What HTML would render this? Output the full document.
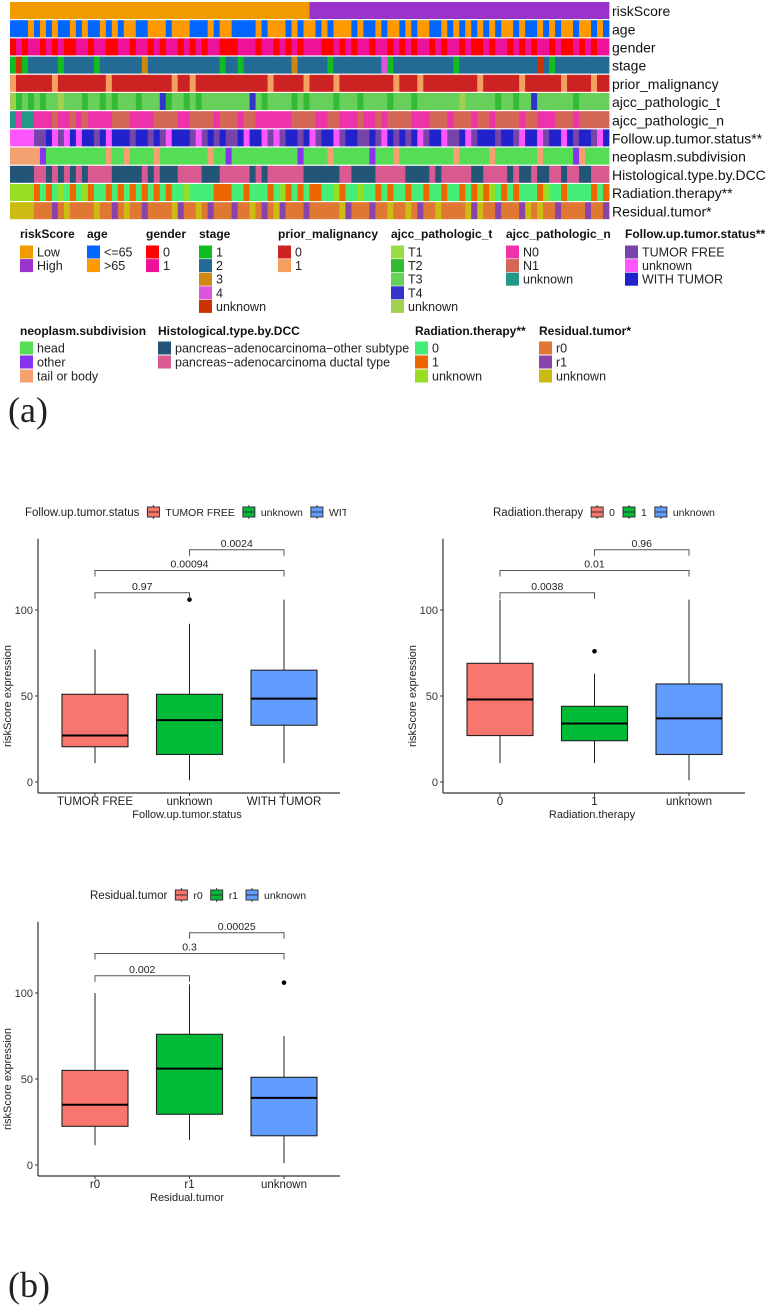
<!DOCTYPE html>
<html><head><meta charset="utf-8">
<style>
html,body{margin:0;padding:0;background:#fff;}
body{width:774px;height:1305px;position:relative;overflow:hidden;font-family:"Liberation Sans",sans-serif;}
svg{position:absolute;left:0;top:0;}
</style></head>
<body>
<svg id="main" width="774" height="1305" xmlns="http://www.w3.org/2000/svg">
<text x="8" y="422" font-family="Liberation Serif,serif" font-size="36" fill="#222">(a)</text>
<text x="8" y="1297" font-family="Liberation Serif,serif" font-size="36" fill="#222">(b)</text>
</svg>
<script>
// ---------- heatmap data ----------
const rowNames = ["riskScore","age","gender","stage","prior_malignancy","ajcc_pathologic_t","ajcc_pathologic_n","Follow.up.tumor.status**","neoplasm.subdivision","Histological.type.by.DCC","Radiation.therapy**","Residual.tumor*"];
const rowCodes = [
"0000000000000000000000000000000000000000000000000011111111111111111111111111111111111111111111111111",
"0001010100101001010110011101110001011000010111010110101110100101101011001010101010110100101011011010",
"0101101010011011001101101011010101100011101101010111001010110110101011010110100101101010110100101011",
"0401111101111101111111211111111111101101111111121111101111111130111111111101111111111111410111111111",
"1000000100000000100000000001001000000000000100000100001000000000100010000000001000000100000010000100",
"4121212242221221212221222312212122222222321222212122221222122221222122222224222221221223222222122222",
"2022000100101000011100001111001111011101100000011110011000100101111000111011101101111011000111011111",
"1111002101212202122202202012220102020021221010220210221022002012020210221002102220220122102212022012",
"2222210000000000200200002000000002001000000000001000020000001000200000000020000020000000200000120000",
"0000110101010111100000101000111100011111010111111000000110000111110000101111100111101001001101100111",
"2222101020102100101010101010020000111001000102101011002100200101001001001001012120101000120010000101",
"2222000102000020010200100002100201000100201021000100000210001002002010020000212001000120200100001001"];
const rowColors = [
["#F29B00","#9933CC"],["#0066FF","#FF9900"],["#FF0000","#EE1199"],
["#11BB22","#236B94","#CC8811","#DD55DD","#CC3300"],["#CC2222","#F5A060"],
["#99DD44","#33BB33","#66D05A","#3333CC","#A0D050"],["#EE33AA","#D46655","#229988"],
["#7744AA","#FF55FF","#2222CC"],["#55DD55","#8833EE","#F4A070"],["#225577","#D95A90"],
["#44EE77","#EE6600","#99DD22"],["#E07733","#8844AA","#CCBB11"]];
const legendTitles = ["riskScore","age","gender","stage","prior_malignancy","ajcc_pathologic_t","ajcc_pathologic_n","Follow.up.tumor.status**","neoplasm.subdivision","Histological.type.by.DCC","Radiation.therapy**","Residual.tumor*"];
const legendLabels = [["Low","High"],["<=65",">65"],["0","1"],["1","2","3","4","unknown"],["0","1"],["T1","T2","T3","T4","unknown"],["N0","N1","unknown"],["TUMOR FREE","unknown","WITH TUMOR"],["head","other","tail or body"],["pancreas\u2212adenocarcinoma\u2212other subtype","pancreas\u2212adenocarcinoma ductal type"],["0","1","unknown"],["r0","r1","unknown"]];
const legendX = [20,87,146,199,278,391,506,625,20,158,415,539];

// ---------- boxplot data ----------
const groups1 = ["TUMOR FREE","unknown","WITH TUMOR"];
const stats1 = [[11,20.5,27,51,77],[1,16,36,51,92],[11,33,48.5,65,106]];
const outliers1 = [[],[106],[]];
const pvals1 = ["0.97","0.00094","0.0024"];
const groups2 = ["0","1","unknown"];
const stats2 = [[11,27,48,69,106],[11,24,34,44,63],[1,16,37,57,106]];
const outliers2 = [[],[76],[]];
const pvals2 = ["0.0038","0.01","0.96"];
const groups3 = ["r0","r1","unknown"];
const stats3 = [[11.5,22.5,35,55,100],[14.5,29.5,56,76,105],[1,17,39,51,75]];
const outliers3 = [[],[],[106]];
const pvals3 = ["0.002","0.3","0.00025"];
const yTicks = [0,50,100];
const fills = ["#F8766D","#00BA38","#619CFF"];

const NS="http://www.w3.org/2000/svg";
const svg=document.getElementById('main');
function mk(tag,attrs,parent){const e=document.createElementNS(NS,tag);for(const k in attrs)e.setAttribute(k,attrs[k]);(parent||svg).appendChild(e);return e;}
function txt(x,y,s,attrs,parent){const e=mk('text',Object.assign({x:x,y:y},attrs),parent);e.textContent=s;return e;}

// heatmap
const hm=mk('g',{});


const hx0=10,hx1=609,hy0=2,rh=18.2;
rowCodes.forEach((codes,r)=>{
  const g=mk('g',{},hm);
  
  
  const n=codes.length,cw=(hx1-hx0)/n,y=hy0+r*rh;
  for(let i=0;i<n;i++){
    const c=mk('rect',{x:(hx0+i*cw).toFixed(2),y:y.toFixed(1),width:(cw+0.4).toFixed(2),height:(rh-1.2).toFixed(1),fill:rowColors[r][+codes[i]]},g);
    
    
  }
  const t=txt(612,y+rh/2+5,rowNames[r],{'font-size':14,fill:'#111'},hm);
  
  
});

// legend
legendTitles.forEach((title,i)=>{
  const g=mk('g',{});
  
  
  const x=legendX[i],ty=i<8?238:335,ey0=i<8?252:348,sp=i<8?13.6:14;
  txt(x,ty,title,{'font-size':12,'font-weight':'bold',fill:'#111'},g);
  legendLabels[i].forEach((lab,j)=>{
    const cy=ey0+j*sp;
    const s=mk('rect',{x:x,y:cy-6.5,width:13,height:13,fill:rowColors[i][j]},g);
    
    
    const t=txt(x+17,cy+4.5,lab,{'font-size':12.5,fill:'#222'},g);
    
    
  });
});

// boxplots
function boxplot(cfg){
  const g=mk('g',{});
  
  
  const ax=cfg.ax, y0=cfg.y0, k=1.72;
  const Y=v=>y0-v*k;
  const X=i=>ax+57+i*94.5;
  // legend
  const lg=mk('g',{},g);
  
  
  let lx=cfg.lx;
  const tt=txt(lx,cfg.ly+4,cfg.title,{'font-size':11.5,fill:'#222'},lg);
  lx+=tt.getComputedTextLength()+8;
  cfg.groups.forEach((gname,i)=>{
    mk('line',{x1:lx+6,x2:lx+6,y1:cfg.ly-7,y2:cfg.ly+7,stroke:'#333','stroke-width':1},lg);
    mk('rect',{x:lx,y:cfg.ly-5,width:12,height:10,fill:fills[i],stroke:'#333','stroke-width':1},lg);
    mk('line',{x1:lx,x2:lx+12,y1:cfg.ly,y2:cfg.ly,stroke:'#333','stroke-width':1},lg);
    const t=txt(lx+18,cfg.ly+4,gname,{'font-size':10.5,fill:'#222'},lg);
    
    
    lx+=18+t.getComputedTextLength()+8;
  });
  if(cfg.clip){mk('rect',{x:cfg.clip,y:cfg.ly-9,width:80,height:18,fill:'#fff'},lg);}
  // axes
  mk('line',{x1:ax,x2:ax,y1:y0-142*k+1,y2:y0+11,stroke:'#333','stroke-width':1.2},g);
  mk('line',{x1:ax,x2:ax+302,y1:y0+11,y2:y0+11,stroke:'#333','stroke-width':1.2},g);
  yTicks.forEach(v=>{
    mk('line',{x1:ax-3,x2:ax,y1:Y(v),y2:Y(v),stroke:'#333'},g);
    const t=txt(ax-5,Y(v)+4,String(v),{'font-size':11,fill:'#333','text-anchor':'end'},g);
    
    
  });
  const yt=txt(0,0,'riskScore  expression',{'font-size':11,fill:'#222','text-anchor':'middle',transform:`translate(${ax-27},${Y(50)}) rotate(-90)`},g);
  
  
  const xt=txt(ax+149,y0+36,cfg.title,{'font-size':11,fill:'#222','text-anchor':'middle'},g);
  
  
  cfg.groups.forEach((gname,i)=>{
    const cx=X(i),s=cfg.stats[i];
    mk('line',{x1:cx,x2:cx,y1:y0+11,y2:y0+14,stroke:'#333'},g);
    const t=txt(cx,y0+23,gname,{'font-size':11.5,fill:'#222','text-anchor':'middle'},g);
    
    
    mk('line',{x1:cx,x2:cx,y1:Y(s[0]),y2:Y(s[4]),stroke:'#222','stroke-width':1},g);
    const b=mk('rect',{x:cx-33,y:Y(s[3]),width:66,height:Y(s[1])-Y(s[3]),fill:fills[i],stroke:'#222','stroke-width':1.1},g);
    
    
    mk('line',{x1:cx-33,x2:cx+33,y1:Y(s[2]),y2:Y(s[2]),stroke:'#000','stroke-width':2},g);
    cfg.outliers[i].forEach(o=>{
      const p=mk('circle',{cx:cx,cy:Y(o),r:2.3,fill:'#000'},g);
      
      
    });
  });
  // brackets
  const pairs=[[0,1,110],[0,2,123],[1,2,135]];
  pairs.forEach((p,j)=>{
    const x1=X(p[0]),x2=X(p[1]),yy=Y(p[2]);
    mk('path',{d:`M${x1},${yy+6}V${yy}H${x2}V${yy+6}`,fill:'none',stroke:'#555','stroke-width':1},g);
    const t=txt((x1+x2)/2,yy-3,cfg.pvals[j],{'font-size':10.5,fill:'#222','text-anchor':'middle'},g);
    
    
  });
}
boxplot({name:'boxplot-follow-up-tumor-status',ax:38,y0:782,lx:25,ly:512,title:'Follow.up.tumor.status',groups:groups1,stats:stats1,outliers:outliers1,pvals:pvals1,clip:346});
boxplot({name:'boxplot-radiation-therapy',ax:443,y0:782,lx:493,ly:512,title:'Radiation.therapy',groups:groups2,stats:stats2,outliers:outliers2,pvals:pvals2});
boxplot({name:'boxplot-residual-tumor',ax:38,y0:1165,lx:90,ly:895,title:'Residual.tumor',groups:groups3,stats:stats3,outliers:outliers3,pvals:pvals3});
</script>
</body></html>
